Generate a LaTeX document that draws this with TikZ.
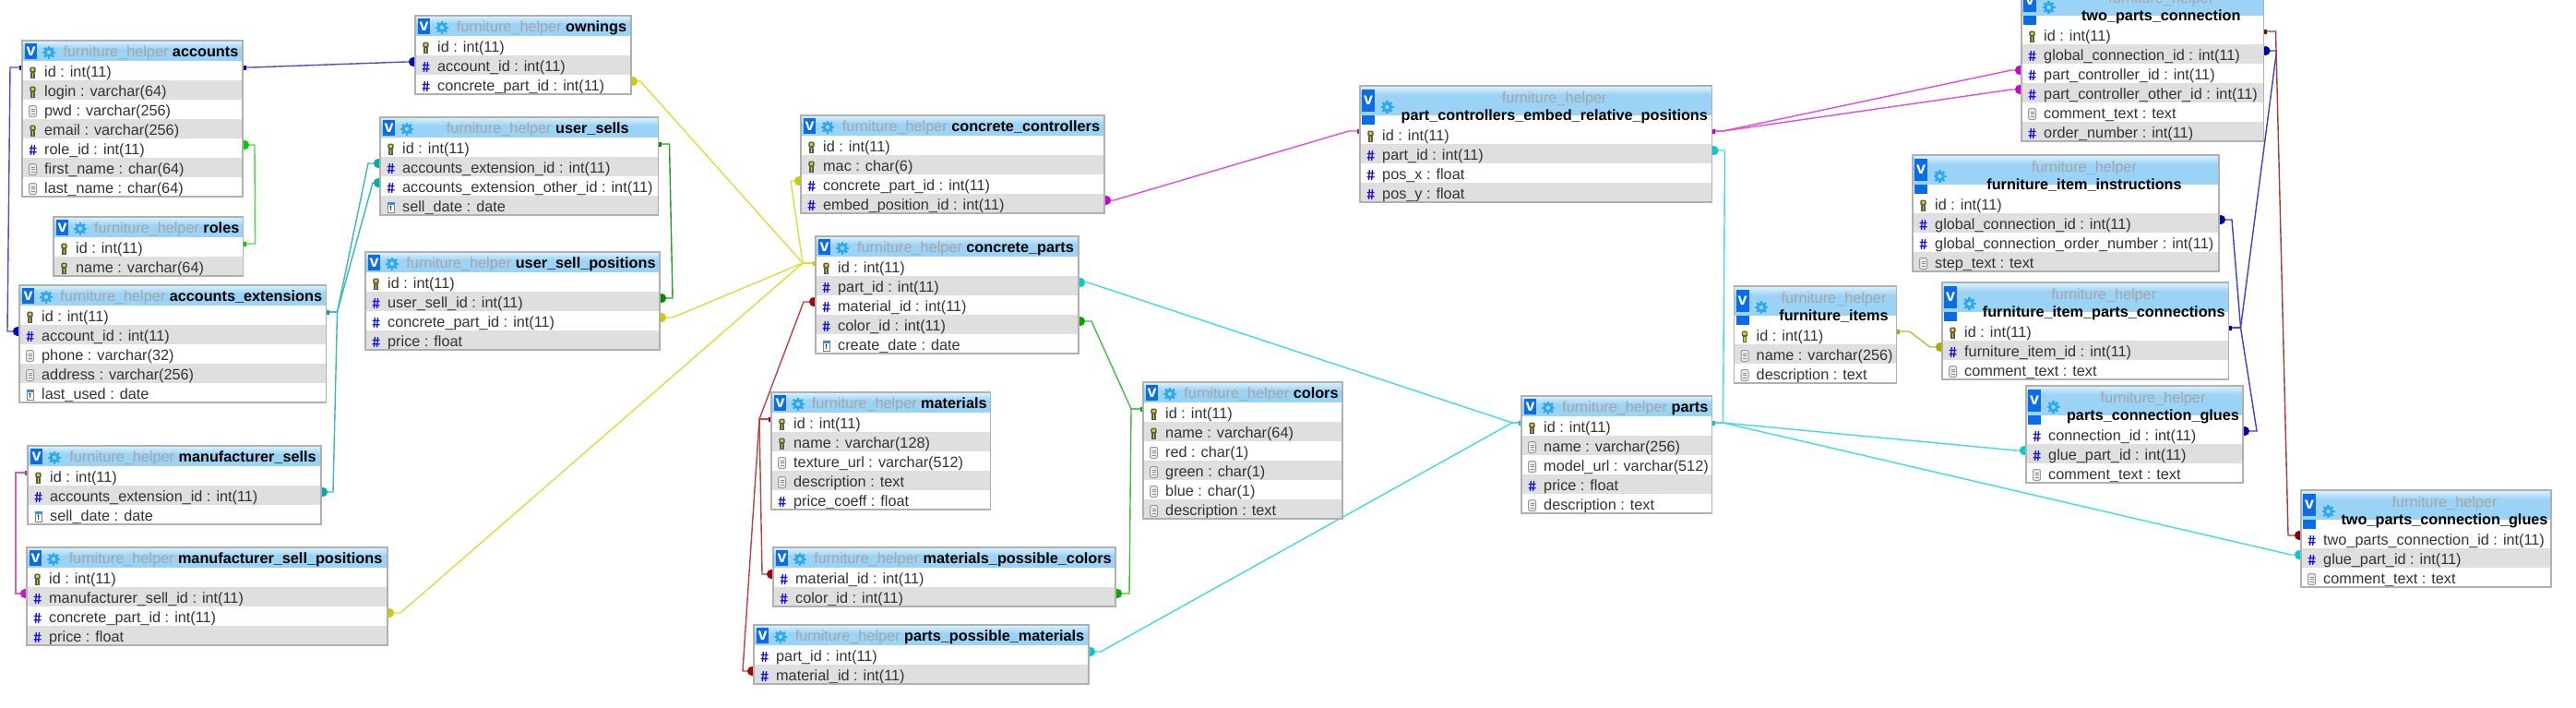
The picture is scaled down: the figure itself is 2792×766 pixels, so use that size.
\documentclass[tikz,border=0pt]{standalone}
\usepackage{fontspec}
\setmainfont{Liberation Sans}
\usetikzlibrary{arrows.meta,backgrounds}

\definecolor{hdrblue}{HTML}{9AD3F6}
\definecolor{hdrtop}{HTML}{DDF2FD}
\definecolor{rowgray}{HTML}{DFDFDF}
\definecolor{rowink}{HTML}{333333}
\definecolor{schemagray}{HTML}{A6A6A6}
\definecolor{framegray}{HTML}{B0B0B0}
\definecolor{btnblue}{HTML}{0A6CE6}
\definecolor{gearblue}{HTML}{2BA9F0}
\definecolor{hashblue}{HTML}{1414E6}
\definecolor{blueln}{HTML}{4B4BD6}   \definecolor{bluedot}{HTML}{0000C8}
\definecolor{grnln}{HTML}{44DD44}    \definecolor{grndot}{HTML}{00CC00}
\definecolor{tealln}{HTML}{3BB8B8}   \definecolor{tealdot}{HTML}{00AAAA}
\definecolor{magln}{HTML}{CF5FCF}    \definecolor{magdot}{HTML}{BB22BB}
\definecolor{yelln}{HTML}{DCDC40}    \definecolor{yeldot}{HTML}{CCCC00}
\definecolor{pinkln}{HTML}{E24BE2}   \definecolor{pinkdot}{HTML}{CC00CC}
\definecolor{cyanln}{HTML}{3FDCDC}   \definecolor{cyandot}{HTML}{00CCCC}
\definecolor{oliln}{HTML}{B8B83A}    \definecolor{olidot}{HTML}{AAAA00}
\definecolor{navyln}{HTML}{3F3FC4}   \definecolor{navydot}{HTML}{0000AA}
\definecolor{brnln}{HTML}{A83A3A}    \definecolor{brndot}{HTML}{880000}
\definecolor{redln}{HTML}{C04040}    \definecolor{reddot}{HTML}{AA0000}
\definecolor{midln}{HTML}{44BB44}    \definecolor{middot}{HTML}{00AA00}
\definecolor{dkgln}{HTML}{2A9A2A}    \definecolor{dkgdot}{HTML}{008800}

\tikzset{
  rowband/.style={inner sep=0pt,outer sep=0pt,anchor=north west,minimum height=21pt},
  rowtext/.style={inner sep=0pt,anchor=base west,text=rowink,font=\fontsize{16.25}{19}\selectfont},
  headband/.style={inner sep=0pt,outer sep=0pt,anchor=north west,fill=hdrblue},
  titletext/.style={inner sep=0pt,anchor=base,font=\fontsize{16.25}{19}\selectfont},
  vbtn/.style={inner sep=0pt,anchor=north west,fill=btnblue,text=white,font=\fontsize{18}{18}\bfseries\selectfont},
  frame/.style={inner sep=0pt,outer sep=0pt,anchor=north west,draw=framegray,line width=1.6pt},
  rel/.style={line width=1.4pt,shorten >=-3pt}}

% field icons at centre x,y
\newcommand{\fldk}[2]{\begin{scope}[shift={(#1,#2)}]
  \fill[black!65,rounded corners=1.5pt] (-3.2,-6) rectangle (3.2,0.5);
  \fill[black!65] (-2.2,0) rectangle (2.2,6);
  \fill[yellow!70!olive] (-1.9,-4.8) rectangle (1.9,-1.2);
  \fill[yellow!70!olive] (-0.9,0) rectangle (0.9,5);
\end{scope}}
\newcommand{\fldh}[2]{\begin{scope}[shift={(#1,#2)}]
  \draw[hashblue,line width=1.3pt] (-1.2,-5.5) -- (-2,5.5) (2,-5.5) -- (1.2,5.5)
    (-4,-2) -- (4,-2) (-4,2.2) -- (4,2.2);
\end{scope}}
\newcommand{\fldd}[2]{\begin{scope}[shift={(#1,#2)}]
  \draw[black!40,fill=black!8,line width=1pt,rounded corners=2pt] (-4,-6) rectangle (4,6);
  \draw[black!45,line width=0.8pt] (-2,-2.5) -- (2,-2.5) (-2,0) -- (2,0) (-2,2.5) -- (2,2.5);
\end{scope}}
\newcommand{\fldc}[2]{\begin{scope}[shift={(#1,#2)}]
  \draw[black!50,fill=white,line width=0.8pt] (-3.5,-5.5) rectangle (3.5,5.5);
  \fill[btnblue!80] (-3.5,-5.5) rectangle (3.5,-2.5);
  \draw[black,line width=0.9pt] (-0.8,-0.5) -- (0.2,-1.2) -- (0.2,3.5);
\end{scope}}
% settings wheel in the title bar
\newcommand{\wheel}[2]{\begin{scope}[shift={(#1,#2)}]
  \draw[gearblue,line width=2.8pt] (0,0) circle (3.9);
  \foreach \a in {0,45,...,315}
    \draw[gearblue,line width=2.4pt] (\a:4.8) -- (\a:7);
\end{scope}}

% name, x, y, width, title lines (1 or 2), table name, rows icon/text
\newcommand{\dbtable}[7]{%
  \ifnum#5=1 \def\hh{22}\else \def\hh{42}\fi
  \ifnum#5=1
    \node[headband,minimum width=#4pt,minimum height=22pt] (#1-head) at (#2,#3) {};
    \shade[top color=hdrtop,bottom color=hdrblue] (#2,#3) rectangle ({#2+#4},{#3+9});
    \node[vbtn,minimum width=13pt,minimum height=17pt] (#1-v) at ({#2+3},{#3+3}) {v};
    \wheel{#2+29}{#3+12.7}
    \node[titletext] (#1-title) at ({#2+44+(#4-48)/2},{#3+17.7})
      {\textcolor{schemagray}{furniture\_helper} \textbf{#6}};
  \else
    \fill[white] (#2,#3) rectangle ({#2+#4},{#3+42});
    \node[headband,minimum width=#4pt,minimum height=32pt] (#1-head) at (#2,#3) {};
    \shade[top color=hdrtop,bottom color=hdrblue] (#2,#3) rectangle ({#2+#4},{#3+10});
    \node[vbtn,minimum width=14pt,minimum height=24pt] (#1-v) at ({#2+2},{#3+4}) {v};
    \fill[btnblue] ({#2+2},{#3+32}) rectangle ({#2+16},{#3+42});
    \wheel{#2+29.5}{#3+23}
    \node[titletext] (#1-schema) at ({#2+44+(#4-48)/2},{#3+18.7}) {\textcolor{schemagray}{furniture\_helper}};
    \node[titletext] (#1-title) at ({#2+44+(#4-48)/2},{#3+37.3}) {\textbf{#6}};
  \fi
  \foreach \ic/\tx [count=\i] in {#7} {
    \pgfmathsetmacro\ry{#3+\hh+21*(\i-1)}
    \ifodd\i \def\rf{white}\else \def\rf{rowgray}\fi
    \node[rowband,fill=\rf,minimum width=#4pt] (#1-\i) at (#2,\ry) {};
    \csname fld\ic\endcsname{#2+11.5}{\ry+12.5}
    \node[rowtext] (#1-\i-txt) at ({#2+24},{\ry+17}) {\tx};
    \xdef\nrows{\i}
  }
  \pgfmathsetmacro\th{\hh+21*\nrows}
  \node[frame,minimum width=#4pt,minimum height=\th pt] (#1) at (#2,#3) {};
}
% colour, reference row, its stub, foreign key row, its stub
\newcommand{\rel}[5]{%
  \draw[rel,#1ln,{Square[length=3.5pt,width=5pt,color=#1dot]}-{Circle[length=10pt,width=10pt,color=#1dot]}]
    ([yshift=3.5pt]#2) -- ([shift={(#3pt,3.5pt)}]#2) -- ([shift={(#5pt,3.5pt)}]#4) -- ([yshift=3.5pt]#4);}

\begin{document}
\begin{tikzpicture}[x=1pt,y=-1pt]
\useasboundingbox (0,0) rectangle (2792,766);
% ---------- accounts side ----------
\dbtable{accounts}{24}{44}{239}{1}{accounts}{k/id : int(11),k/login : varchar(64),d/pwd : varchar(256),k/email : varchar(256),h/role\_id : int(11),d/first\_name : char(64),d/last\_name : char(64)}
\dbtable{roles}{58}{235}{205.5}{1}{roles}{k/id : int(11),k/name : varchar(64)}
\dbtable{acext}{21}{309}{332.5}{1}{accounts\_extensions}{k/id : int(11),h/account\_id : int(11),d/phone : varchar(32),d/address : varchar(256),c/last\_used : date}
\dbtable{msells}{30}{483}{318}{1}{manufacturer\_sells}{k/id : int(11),h/accounts\_extension\_id : int(11),c/sell\_date : date}
\dbtable{mpos}{29}{593}{391}{1}{manufacturer\_sell\_positions}{k/id : int(11),h/manufacturer\_sell\_id : int(11),h/concrete\_part\_id : int(11),h/price : float}
\dbtable{ownings}{450}{17}{234}{1}{ownings}{k/id : int(11),h/account\_id : int(11),h/concrete\_part\_id : int(11)}
\dbtable{usells}{412}{127}{301.5}{1}{user\_sells}{k/id : int(11),h/accounts\_extension\_id : int(11),h/accounts\_extension\_other\_id : int(11),c/sell\_date : date}
\dbtable{uspos}{396}{273}{319}{1}{user\_sell\_positions}{k/id : int(11),h/user\_sell\_id : int(11),h/concrete\_part\_id : int(11),h/price : float}
% ---------- parts in the middle ----------
\dbtable{cctrl}{868}{125}{329}{1}{concrete\_controllers}{k/id : int(11),k/mac : char(6),h/concrete\_part\_id : int(11),h/embed\_position\_id : int(11)}
\dbtable{cparts}{884}{256}{285}{1}{concrete\_parts}{k/id : int(11),h/part\_id : int(11),h/material\_id : int(11),h/color\_id : int(11),c/create\_date : date}
\dbtable{materials}{836}{425}{237.5}{1}{materials}{k/id : int(11),k/name : varchar(128),d/texture\_url : varchar(512),d/description : text,h/price\_coeff : float}
\dbtable{mpc}{838}{593}{371}{1}{materials\_possible\_colors}{h/material\_id : int(11),h/color\_id : int(11)}
\dbtable{ppm}{817}{677}{363}{1}{parts\_possible\_materials}{h/part\_id : int(11),h/material\_id : int(11)}
\dbtable{colors}{1239}{414}{216}{1}{colors}{k/id : int(11),k/name : varchar(64),d/red : char(1),d/green : char(1),d/blue : char(1),d/description : text}
\dbtable{parts}{1649}{429}{206.5}{1}{parts}{k/id : int(11),d/name : varchar(256),d/model\_url : varchar(512),h/price : float,d/description : text}
% ---------- right side, two line titles ----------
\dbtable{pcerp}{1474}{93}{381.5}{2}{part\_controllers\_embed\_relative\_positions}{k/id : int(11),h/part\_id : int(11),h/pos\_x : float,h/pos\_y : float}
\dbtable{tpc}{2191}{-15}{262.5}{2}{two\_parts\_connection}{k/id : int(11),h/global\_connection\_id : int(11),h/part\_controller\_id : int(11),h/part\_controller\_other\_id : int(11),d/comment\_text : text,h/order\_number : int(11)}
\dbtable{fii}{2073}{168}{332}{2}{furniture\_item\_instructions}{k/id : int(11),h/global\_connection\_id : int(11),h/global\_connection\_order\_number : int(11),d/step\_text : text}
\dbtable{fitems}{1879.5}{310}{176}{2}{furniture\_items}{k/id : int(11),d/name : varchar(256),d/description : text}
\dbtable{fipc}{2105}{306}{310.5}{2}{furniture\_item\_parts\_connections}{k/id : int(11),h/furniture\_item\_id : int(11),d/comment\_text : text}
\dbtable{pcglue}{2196}{418}{235}{2}{parts\_connection\_glues}{h/connection\_id : int(11),h/glue\_part\_id : int(11),d/comment\_text : text}
\dbtable{tpglue}{2494}{531}{271}{2}{two\_parts\_connection\_glues}{h/two\_parts\_connection\_id : int(11),h/glue\_part\_id : int(11),d/comment\_text : text}
% ---------- relations, behind the tables ----------
\begin{pgfonlayer}{background}
\fill[white] (0,0) rectangle (2792,766);
\rel{blue}{accounts-1.east}{10}{ownings-2.west}{-10}
\rel{blue}{accounts-1.west}{-13}{acext-2.west}{-13}
\rel{grn}{roles-1.east}{13}{accounts-5.east}{13}
\rel{teal}{acext-1.east}{12}{usells-2.west}{-13}
\rel{teal}{acext-1.east}{12}{usells-3.west}{-8}
\rel{teal}{acext-1.east}{12}{msells-2.east}{13}
\rel{mag}{msells-1.west}{-13}{mpos-2.west}{-12}
\rel{dkg}{usells-1.east}{12}{uspos-2.east}{14}
\rel{yel}{cparts-1.west}{-14}{ownings-3.east}{10}
\rel{yel}{cparts-1.west}{-14}{uspos-3.east}{14}
\rel{yel}{cparts-1.west}{-14}{mpos-3.east}{14}
\rel{yel}{cparts-1.west}{-14}{cctrl-3.west}{-11}
\rel{pink}{pcerp-1.west}{-12}{cctrl-4.east}{10}
\rel{pink}{pcerp-1.east}{12}{tpc-3.west}{-11}
\rel{pink}{pcerp-1.east}{12}{tpc-4.west}{-11}
\rel{red}{materials-1.west}{-13}{cparts-3.west}{-13}
\rel{red}{materials-1.west}{-13}{mpc-1.west}{-12}
\rel{red}{materials-1.west}{-13}{ppm-2.west}{-12}
\rel{mid}{colors-1.west}{-13}{cparts-4.east}{14}
\rel{mid}{colors-1.west}{-13}{mpc-2.east}{15}
\rel{cyan}{parts-1.west}{-10}{cparts-2.east}{10}
\rel{cyan}{parts-1.west}{-10}{ppm-1.east}{13}
\rel{cyan}{parts-1.east}{12}{pcerp-2.east}{14}
\rel{cyan}{parts-1.east}{12}{pcglue-2.west}{-11}
\rel{cyan}{parts-1.east}{12}{tpglue-2.west}{-11}
\rel{oli}{fitems-1.east}{14}{fipc-2.west}{-13}
\rel{navy}{fipc-1.east}{13}{tpc-2.east}{14}
\rel{navy}{fipc-1.east}{13}{fii-2.east}{14}
\rel{navy}{fipc-1.east}{13}{pcglue-1.east}{15}
\rel{brn}{tpc-1.east}{13}{tpglue-1.west}{-14}
\end{pgfonlayer}
\end{tikzpicture}
\end{document}
